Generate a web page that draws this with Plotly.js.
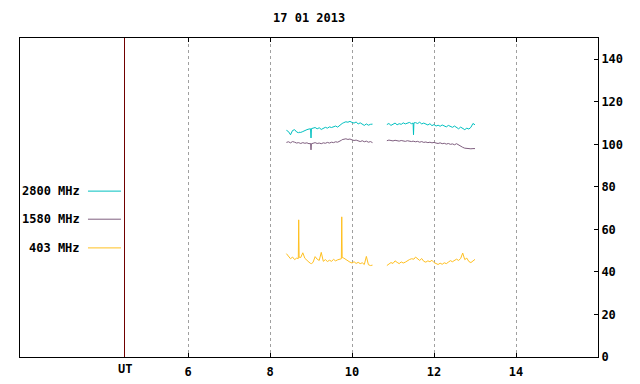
<!DOCTYPE html>
<html>
<head>
<meta charset="utf-8">
<script src="https://cdn.plot.ly/plotly-3.0.1.min.js"></script>
<style>html,body{margin:0;padding:0;background:#fff;}#chart{width:640px;height:384px;}</style>
</head>
<body>
<div id="chart"></div>
<script>
// Time (UT hours) for the two observing segments
const timesA = [8.40,8.45,8.50,8.55,8.60,8.65,8.69,8.70,8.71,8.75,8.80,8.85,8.90,8.95,8.99,9.00,9.01,9.05,9.10,9.15,9.20,9.25,9.30,9.35,9.40,9.45,9.50,9.55,9.60,9.65,9.70,9.74,9.75,9.76,9.80,9.85,9.90,9.95,10.00,10.05,10.10,10.15,10.20,10.25,10.30,10.35,10.40,10.45,10.50];
const timesB = [10.85,10.90,10.95,11.00,11.05,11.10,11.15,11.20,11.25,11.30,11.35,11.40,11.45,11.49,11.50,11.51,11.55,11.60,11.65,11.70,11.75,11.80,11.85,11.90,11.95,12.00,12.05,12.10,12.15,12.20,12.25,12.30,12.35,12.40,12.45,12.50,12.55,12.60,12.65,12.70,12.75,12.80,12.85,12.90,12.95,13.00];

// 2800 MHz flux
const f2800A = [106.6,106.0,104.5,106.5,106.9,105.8,105.5,105.3,105.7,105.6,106.0,106.6,106.9,107.2,107.3,103.0,107.4,107.6,107.9,107.3,107.8,107.0,107.5,108.0,107.6,108.2,107.9,108.4,108.6,108.1,109.0,109.4,109.5,109.8,110.2,110.6,110.4,110.8,110.3,110.0,110.5,109.6,110.1,109.3,108.9,109.6,109.0,109.4,109.5];
const f2800B = [109.3,109.8,108.9,109.5,110.0,109.2,109.7,109.4,110.1,109.6,109.9,110.3,109.7,110.0,104.5,110.1,110.2,109.8,110.4,109.6,110.0,109.5,109.1,109.7,108.8,109.3,108.6,109.0,108.5,109.1,108.7,108.2,108.9,108.4,108.0,108.6,107.8,107.3,108.1,107.5,106.9,107.6,107.2,108.0,109.8,109.2];

// 1580 MHz flux
const f1580A = [100.9,101.2,100.7,101.3,101.0,100.6,100.8,100.9,100.7,100.4,100.8,100.5,100.7,100.3,100.4,97.4,100.3,100.5,100.8,100.4,100.6,100.3,100.7,100.5,100.9,100.6,101.0,100.8,101.2,101.0,101.4,101.6,102.0,102.2,102.4,102.6,102.3,102.5,102.1,101.8,102.0,101.6,101.3,101.7,101.2,101.5,101.0,101.3,100.8];
const f1580B = [101.7,102.0,101.8,101.6,101.9,101.7,101.5,101.8,101.6,101.4,101.7,101.5,101.3,101.5,101.6,101.4,101.2,101.4,101.0,101.3,100.9,101.1,100.8,101.0,100.7,100.9,100.6,100.4,100.7,100.3,100.5,100.1,100.4,100.0,100.2,99.8,100.3,99.6,99.3,98.6,98.2,98.0,98.1,97.9,98.0,98.0];

// 403 MHz flux
const f403A = [48.6,47.4,46.2,47.0,45.8,46.5,46.3,64.5,46.9,46.8,49.0,46.4,45.3,44.6,44.0,43.8,43.9,44.5,47.2,46.0,45.4,49.2,45.0,45.8,44.9,45.5,45.0,45.9,45.2,45.7,46.1,46.2,65.9,46.8,46.5,45.8,45.3,44.6,44.2,44.8,44.0,44.5,43.9,44.3,43.5,47.3,43.4,43.0,43.2];
const f403B = [43.0,43.6,44.4,44.0,45.2,44.5,43.9,44.7,44.2,44.6,45.3,45.8,46.2,45.9,45.7,46.0,47.0,46.1,45.4,46.3,45.0,44.6,45.2,44.8,45.5,44.4,44.0,43.5,44.1,43.6,44.3,43.9,44.6,45.3,44.8,45.6,46.0,45.4,46.3,48.9,45.8,46.5,44.9,44.4,45.3,45.9];

const seriesNames = ['2800 MHz','1580 MHz','403 MHz'];
const seriesColors = ['#00c0c0','#7f5f7f','#ffc020'];
const xTicks = [6,8,10,12,14];
const utLine = 4.451;
const titleText = '17 01 2013';

const FONT = {family:'"DejaVu Sans Mono", "Liberation Mono", monospace', size:12, color:'#000', weight:'bold'};

const x = timesA.concat([null], timesB);
const sets = [f2800A.concat([null], f2800B), f1580A.concat([null], f1580B), f403A.concat([null], f403B)];

const traces = sets.map((y,i)=>({
  x:x, y:y, type:'scatter', mode:'lines', name:seriesNames[i],
  line:{color:seriesColors[i], width:1}, connectgaps:false, showlegend:false, hoverinfo:'skip'
}));

const legY = [0.520, 0.432, 0.342];
const shapes = [
  {type:'line', xref:'x', yref:'paper', x0:utLine, x1:utLine, y0:0, y1:1, line:{color:'#700000', width:1}}
];
const annotations = [
  {xref:'x', yref:'paper', x:utLine, y:0, yshift:-12, text:'UT', showarrow:false, font:FONT, xanchor:'center', yanchor:'middle'}
];
seriesNames.forEach((n,i)=>{
  shapes.push({type:'line', xref:'paper', yref:'paper', x0:0.1176, x1:0.1747, y0:legY[i], y1:legY[i], line:{color:seriesColors[i], width:1}});
  annotations.push({xref:'paper', yref:'paper', x:0.108, y:legY[i], text:n, showarrow:false, font:FONT, xanchor:'right', yanchor:'middle'});
});

const layout = {
  width:640, height:384,
  margin:{l:20, r:42, t:38, b:27},
  paper_bgcolor:'#fff', plot_bgcolor:'#fff',
  font:FONT,
  title:{text:titleText, font:FONT, x:0.483, xanchor:'center', y:0.953, yanchor:'middle'},
  showlegend:false,
  xaxis:{range:[1.902,16.0], tickvals:xTicks, ticktext:xTicks.map(String), ticks:'inside', ticklen:4, tickcolor:'#000',
    showline:true, linecolor:'#000', linewidth:1, mirror:'ticks', showgrid:true, gridcolor:'#a0a0a0', griddash:'dot', gridwidth:1,
    zeroline:false, tickfont:FONT, ticklabelstandoff:4},
  yaxis:{range:[0,150], side:'right', dtick:20, tick0:0, ticks:'inside', ticklen:4, tickcolor:'#000',
    showline:true, linecolor:'#000', linewidth:1, mirror:true, showgrid:false, zeroline:false, tickfont:FONT},
  shapes:shapes, annotations:annotations
};

Plotly.newPlot('chart', traces, layout, {staticPlot:true, displayModeBar:false});
</script>
</body>
</html>
